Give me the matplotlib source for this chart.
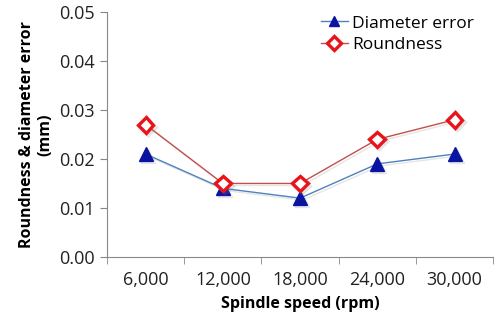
import matplotlib
matplotlib.use("Agg")
import matplotlib.pyplot as plt
import matplotlib.patheffects as pe

# spindle speed vs. measured errors
speeds = ["6,000", "12,000", "18,000", "24,000", "30,000"]
diameter_error = [0.021, 0.014, 0.012, 0.019, 0.021]
roundness = [0.027, 0.015, 0.015, 0.024, 0.028]

plt.rcParams['font.family'] = ['Open Sans', 'DejaVu Sans']

fig = plt.figure(figsize=(4.99, 3.24), dpi=100)
ax = fig.add_axes([0.2144, 0.207, 0.774, 0.756])

x = list(range(len(speeds)))
shadow = [pe.SimpleLineShadow(offset=(1.5, -1.5), shadow_color='gray', alpha=0.2), pe.Normal()]

l1, = ax.plot(x, diameter_error, color='#4f81bd', lw=1.0, marker='^', ms=10,
              mfc='#0a14a0', mec='#0a14a0', label='Diameter error', path_effects=shadow)
l2, = ax.plot(x, roundness, color='#c0504d', lw=1.0, marker='D', ms=8,
              mfc='white', mec='#e8141a', mew=2.4, label='Roundness', path_effects=shadow)

ax.set_xlim(-0.5, len(speeds) - 0.5)
ax.set_ylim(0, 0.05)
ax.set_yticks([0, 0.01, 0.02, 0.03, 0.04, 0.05])
ax.set_yticklabels([f"{v:.2f}" for v in ax.get_yticks()])
ax.set_xticks(x)
ax.set_xticklabels(speeds)
ax.set_xticks([i - 0.5 for i in range(len(speeds) + 1)], minor=True)
ax.tick_params(axis='x', which='major', length=0, pad=10, labelsize=13, colors='#222222')
ax.tick_params(axis='x', which='minor', length=5, color='#888888')
ax.tick_params(axis='y', length=5, color='#888888', labelsize=13, labelcolor='#222222', pad=4)

for s in ['top', 'right']:
    ax.spines[s].set_visible(False)
for s in ['left', 'bottom']:
    ax.spines[s].set_color('#888888')

ax.set_xlabel('Spindle speed (rpm)', fontweight='bold', fontsize=11.5, labelpad=5)
ax.set_ylabel('Roundness & diameter error\n(mm)', fontweight='bold', fontsize=11.5, labelpad=4)

leg = ax.legend(loc='upper right', frameon=False, fontsize=12.5, handlelength=1.6,
                handletextpad=0.2, bbox_to_anchor=(0.99, 1.05), labelspacing=0.3)
for h in leg.legend_handles:
    h.set_path_effects([])
    h.set_markersize(7)

fig.savefig('out.png', dpi=100)
